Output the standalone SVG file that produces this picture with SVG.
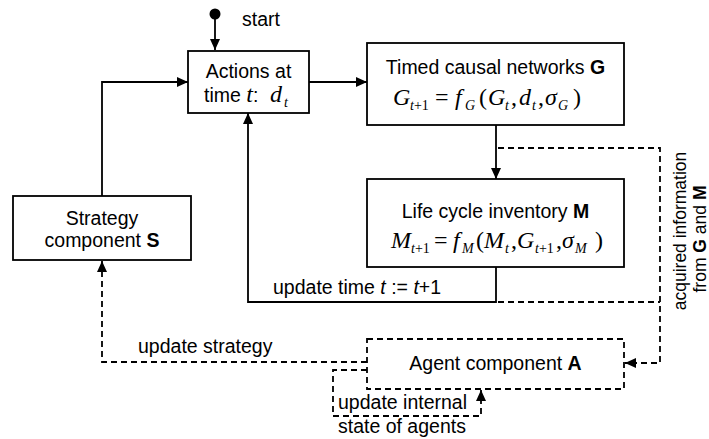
<svg xmlns="http://www.w3.org/2000/svg" width="709" height="439" viewBox="0 0 709 439">
<style>
.box{fill:#fff;stroke:#000;stroke-width:1.8}
.dbox{fill:none;stroke:#000;stroke-width:1.8;stroke-dasharray:6,4}
.ln{fill:none;stroke:#000;stroke-width:1.8}
.dl{fill:none;stroke:#000;stroke-width:1.8;stroke-dasharray:6,4}
.t{font-family:"Liberation Sans",Arial,sans-serif;font-size:19.5px;fill:#000}
.r{font-size:17.5px}
.m{font-family:"Liberation Serif","Times New Roman",serif;font-style:italic;font-size:24px;fill:#000}
.u{font-style:normal}
.s{font-size:14px}
.b{font-weight:bold}
.i{font-style:italic}
</style>
<defs>
<marker id="ah" viewBox="0 0 11 10" refX="11" refY="5" markerWidth="11" markerHeight="10" markerUnits="userSpaceOnUse" orient="auto">
<path d="M0,0 L11,5 L0,10 z" fill="#000"/>
</marker>
</defs>
<rect width="709" height="439" fill="#fff"/>

<g id="connectors">
<circle cx="215" cy="14" r="5.5" fill="#000"/>
<path class="ln" d="M215,18 V50" marker-end="url(#ah)"/>
<path class="ln" d="M309,82 H367" marker-end="url(#ah)"/>
<path class="ln" d="M102,196 V82 H188" marker-end="url(#ah)"/>
<path class="ln" d="M496,125 V179" marker-end="url(#ah)"/>
<path class="ln" d="M496,267 V302 H248 V113" marker-end="url(#ah)"/>
<path class="dl" d="M498,148 H660 V363 H625" marker-end="url(#ah)"/>
<path class="dl" d="M498,302 H660"/>
<path class="dl" d="M367,362 H102 V261" marker-end="url(#ah)"/>
<path class="dl" d="M367,370 H333 V416 H481 V390" marker-end="url(#ah)"/>
</g>

<g id="start-label">
<text class="t" x="242" y="26">start</text>
</g>

<g id="actions">
<rect class="box" x="188" y="51" width="121" height="62"/>
<text class="t" x="248.5" y="78" text-anchor="middle">Actions at</text>
<text class="t" x="204" y="102">time <tspan class="m" font-size="19px">t</tspan>:</text>
<text class="m" x="270" y="102">d<tspan class="s" x="284" dy="5">t</tspan></text>
</g>

<g id="networks">
<rect class="box" x="367" y="43" width="257" height="82"/>
<text class="t" x="495.5" y="74" text-anchor="middle">Timed causal networks <tspan class="b">G</tspan></text>
<text class="m" y="105"><tspan x="393">G</tspan><tspan class="s" x="410" dy="5">t</tspan><tspan class="s u">+1</tspan><tspan class="u" x="435" dy="-5">=</tspan><tspan x="455">f</tspan><tspan class="s" x="465" dy="5">G</tspan><tspan class="u" x="479" dy="-5">(</tspan><tspan x="488">G</tspan><tspan class="s" x="505" dy="5">t</tspan><tspan class="u" x="511" dy="-5">,</tspan><tspan x="519">d</tspan><tspan class="s" x="532" dy="5">t</tspan><tspan class="u" x="538" dy="-5">,</tspan><tspan x="545">σ</tspan><tspan class="s" x="558" dy="5">G</tspan><tspan class="u" x="573" dy="-5">)</tspan></text>
</g>

<g id="inventory">
<rect class="box" x="367" y="179" width="257" height="88"/>
<text class="t" x="495.5" y="218" text-anchor="middle">Life cycle inventory <tspan class="b">M</tspan></text>
<text class="m" y="248"><tspan x="391">M</tspan><tspan class="s" x="411" dy="5">t</tspan><tspan class="s u">+1</tspan><tspan class="u" x="434" dy="-5">=</tspan><tspan x="453">f</tspan><tspan class="s" x="462" dy="5">M</tspan><tspan class="u" x="476" dy="-5">(</tspan><tspan x="484">M</tspan><tspan class="s" x="505" dy="5">t</tspan><tspan class="u" x="511" dy="-5">,</tspan><tspan x="517">G</tspan><tspan class="s" x="535" dy="5">t</tspan><tspan class="s u">+1</tspan><tspan class="u" x="556" dy="-5">,</tspan><tspan x="562">σ</tspan><tspan class="s" x="575" dy="5">M</tspan><tspan class="u" x="595" dy="-5">)</tspan></text>
</g>

<g id="strategy">
<rect class="box" x="13" y="196" width="178" height="64"/>
<text class="t" x="102" y="225" text-anchor="middle">Strategy</text>
<text class="t" x="102" y="247" text-anchor="middle">component <tspan class="b">S</tspan></text>
</g>

<g id="agent">
<rect class="dbox" x="367" y="339" width="257" height="50"/>
<text class="t" x="495.5" y="370" text-anchor="middle">Agent component <tspan class="b">A</tspan></text>
</g>

<g id="labels">
<text class="t" x="273" y="294">update time <tspan class="i">t</tspan> := <tspan class="i">t</tspan>+1</text>
<text class="t" x="138" y="353">update strategy</text>
<text class="t" x="338" y="409">update internal</text>
<text class="t" x="338" y="433">state of agents</text>
<text class="t r" transform="translate(686,231) rotate(-90)" text-anchor="middle">acquired information</text>
<text class="t r" transform="translate(706,239) rotate(-90)" text-anchor="middle">from <tspan class="b">G</tspan> and <tspan class="b">M</tspan></text>
</g>
</svg>
